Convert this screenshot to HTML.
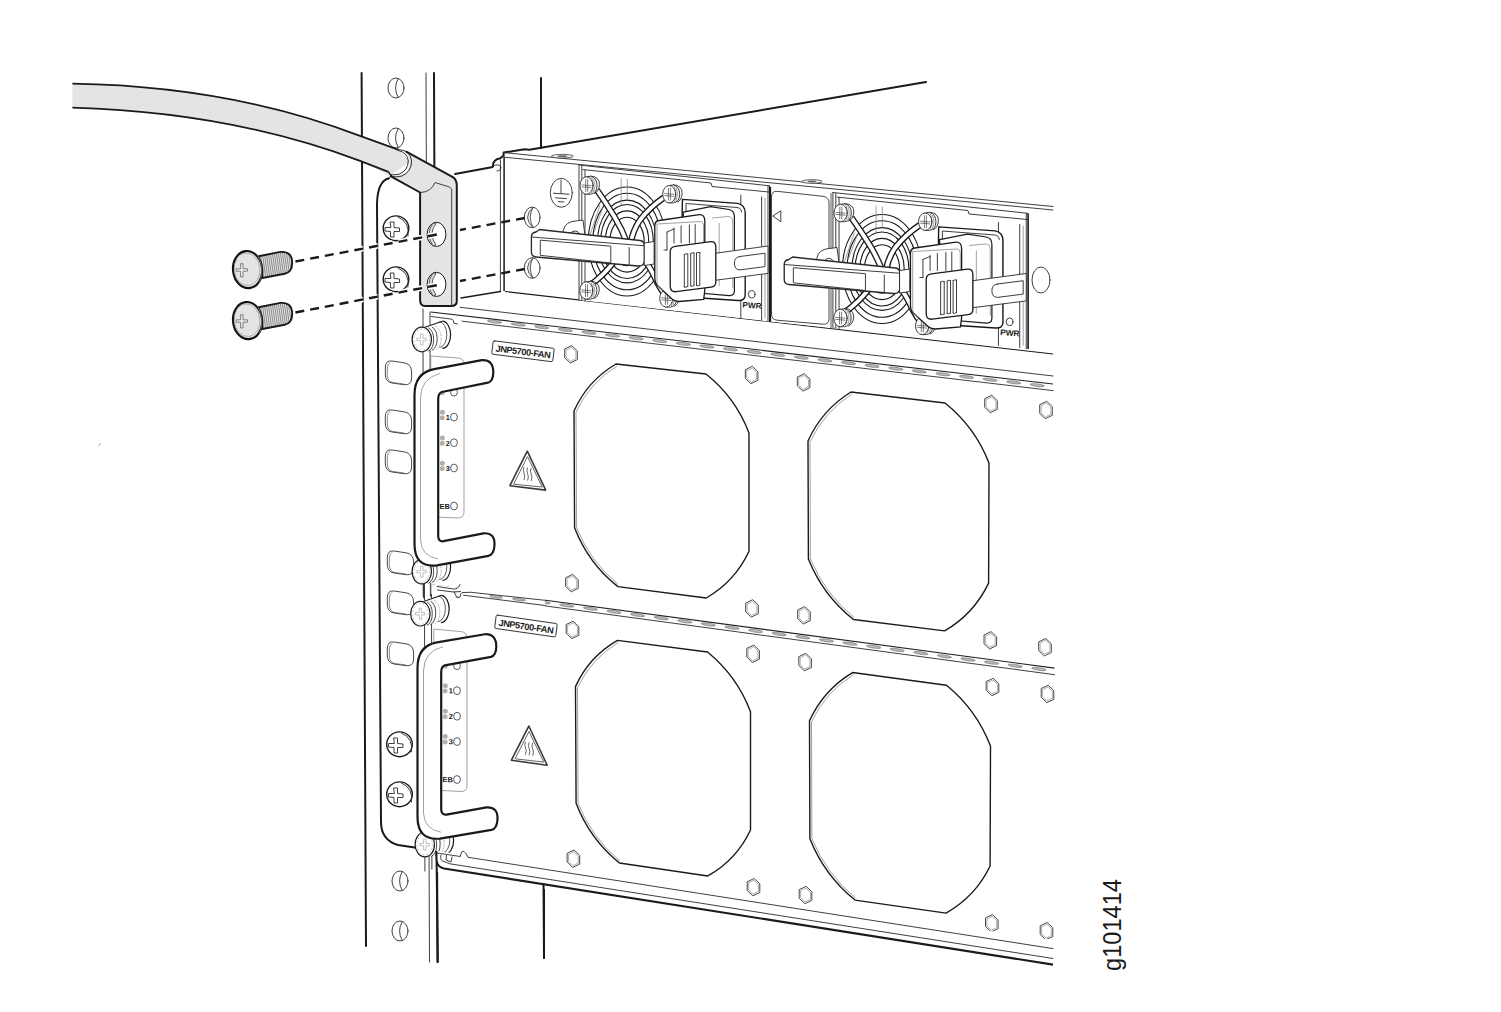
<!DOCTYPE html>
<html><head><meta charset="utf-8"><style>
html,body{margin:0;padding:0;background:#fff;width:1501px;height:1012px;overflow:hidden}
svg{display:block}
.k{fill:none;stroke:#1a1a1a;stroke-width:2;stroke-linecap:round;stroke-linejoin:round}
.m{fill:none;stroke:#1a1a1a;stroke-width:1.4;stroke-linecap:round;stroke-linejoin:round}
.t{fill:none;stroke:#2a2a2a;stroke-width:0.9;stroke-linecap:round;stroke-linejoin:round}
.g{fill:none;stroke:#8a8a8a;stroke-width:0.8}
.w{fill:#fff}
.f{fill:#e4e4e4}
text{font-family:"Liberation Sans",sans-serif}
</style></head><body>
<svg width="1501" height="1012" viewBox="0 0 1501 1012">
<!-- rack rail -->
<path class="k" d="M361.6 73 L366 946"/>
<path class="t" d="M426 73 L429.5 962"/>
<path class="k" d="M434 73 L437.5 962"/>
<!-- rack holes top -->
<g id="rh">
<ellipse class="t" cx="396" cy="88" rx="8" ry="10"/>
<path class="t" d="M398 79 Q393 88 398 97"/>
</g>
<use href="#rh" y="50"/>
<use href="#rh" x="4" y="793"/>
<use href="#rh" x="4" y="843"/>
<!-- back posts -->
<path class="k" d="M541 78 L541 148"/>
<path class="k" d="M544 885 L544 958"/>
<!-- chassis top line -->
<path class="k" d="M455.1 174 L492.9 167 Q492.5 159.5 500.4 158.2 L503.6 155.4 L503.6 152.6 L524.6 149.3 L529.3 149.8 L926 82"/>

<!-- PSU chassis frame -->
<path class="w" d="M500.4 160 L504 157 L1053 210 L1053 354 L505 291 L461 298 L493 168 Z"/>
<path class="t" d="M503.6 152.6 L1053 206.5"/>
<path class="t" d="M505 157.3 L1053 210"/>
<path class="t" d="M500.4 160 L500.4 291.5"/>
<path d="M504.1 156.5 L504.1 291" fill="none" stroke="#1a1a1a" style="stroke-width:1.5"/>
<path d="M505 291.5 L1053 354" fill="none" stroke="#1a1a1a" style="stroke-width:1.1"/>
<path class="m" d="M461 298 L500.4 291.5"/>
<path class="t" d="M493.5 166 Q498 163 501 167 Q501 171 497 171" />
<ellipse cx="562.4" cy="156.2" rx="11" ry="1.8" fill="#fff" stroke="#333" style="stroke-width:0.8"/>
<ellipse cx="562.4" cy="156.2" rx="5" ry="0.9" fill="#666"/>
<ellipse cx="812" cy="181.5" rx="10" ry="1.8" fill="#fff" stroke="#333" style="stroke-width:0.8"/>
<ellipse cx="812" cy="181.5" rx="4.5" ry="0.9" fill="#666"/>
<!-- ground symbol -->
<g class="t">
<ellipse cx="561.3" cy="192.8" rx="11" ry="14.5"/>
<path d="M561 180 L561 193.6 M553.5 193.2 L569 194.2 M555.5 197.8 L566.5 198.6 M558.3 201.6 L563.8 202"/>
</g>
<!-- chassis holes for lug -->
<g id="ch">
<ellipse class="t" cx="532.2" cy="217.4" rx="7.9" ry="10.3"/>
<path d="M533 207.3 Q522 217.4 533 227.5 Q527.5 217.4 533 207.3 Z" fill="#e8e8e8" stroke="#333" style="stroke-width:0.8"/>
</g>
<use href="#ch" y="50.6"/>
<!-- right side hole -->
<ellipse class="t" cx="1041" cy="280" rx="9" ry="13"/>

<g id="psu1">
<path class="w" d="M579 165 L769.6 185.8 L769.6 321.5 L579 300 Z"/>
<path class="t" d="M579 165 L579 300 M581.8 166 L581.8 300.3 M585 170 L585 301"/>
<path class="t" d="M579 165 L769.6 185.8"/>
<path class="t" d="M583 169.6 L711 183 L712 186.5 L769 192"/>
<clipPath id="fanclip"><path d="M583 176 L676 186 L676 312 L583 302 Z"/></clipPath>
<g clip-path="url(#fanclip)" fill="none" stroke="#1a1a1a" style="stroke-width:1.1"><ellipse cx="627" cy="241.5" rx="17.2" ry="24.2"/><ellipse cx="627" cy="241.5" rx="21.7" ry="30.6"/><ellipse cx="627" cy="241.5" rx="26.3" ry="37"/><ellipse cx="627" cy="241.5" rx="29.4" ry="41.4"/><ellipse cx="627" cy="241.5" rx="34.2" ry="48.2"/><ellipse cx="627" cy="241.5" rx="38.7" ry="54.5"/></g>
<path class="g" d="M621.2 178 L621.2 205 M627.3 179 L627.3 200 M590 235 L600 205 M594 232 L603 207"/>
<path d="M597 190 Q606 203 614 216 Q622 229 627.5 244" fill="none" stroke="#1a1a1a" style="stroke-width:6.4" stroke-linecap="butt"/>
<path d="M597 190 Q606 203 614 216 Q622 229 627.5 244" fill="none" stroke="#fff" style="stroke-width:3.8" stroke-linecap="butt"/>
<path d="M664 197.5 Q650 207 640 220 Q633 230 630.5 244" fill="none" stroke="#1a1a1a" style="stroke-width:6.4" stroke-linecap="butt"/>
<path d="M664 197.5 Q650 207 640 220 Q633 230 630.5 244" fill="none" stroke="#fff" style="stroke-width:3.8" stroke-linecap="butt"/>
<path d="M616 259 Q608 270 600 277 Q596 281 590 285" fill="none" stroke="#1a1a1a" style="stroke-width:6.4" stroke-linecap="butt"/>
<path d="M616 259 Q608 270 600 277 Q596 281 590 285" fill="none" stroke="#fff" style="stroke-width:3.8" stroke-linecap="butt"/>
<path d="M643 258 Q651 268 657 282 Q661 290 666 296" fill="none" stroke="#1a1a1a" style="stroke-width:6.4" stroke-linecap="butt"/>
<path d="M643 258 Q651 268 657 282 Q661 290 666 296" fill="none" stroke="#fff" style="stroke-width:3.8" stroke-linecap="butt"/>
<path class="t" d="M590.5 176.0 Q599.5 176.5 599.5 184.5 Q599.0 191.5 594.5 193.5"/><path class="t w" d="M586.5 176.8 L590.5 176.3 Q597.0 177.8 597.0 185.5 Q597.0 193.2 590.5 194.2 L586.5 194.2 Z"/><path class="g" d="M591.5 177.8 Q595.0 185.5 591.5 193.2 M593.5 178.8 Q596.5 185.5 593.5 192.2"/><ellipse class="t w" cx="586.5" cy="185.5" rx="6.5" ry="8.7"/><path class="t" d="M582.0 184.9 L591.0 185.7 M582.0 186.9 L591.0 187.7 M585.7 179.5 L585.7 191.5 M587.7 179.5 L587.7 191.5" style="stroke-width:0.6"/>
<path class="t" d="M673.2 184.7 Q682.2 185.2 682.2 193.2 Q681.7 200.2 677.2 202.2"/><path class="t w" d="M669.2 185.5 L673.2 185.0 Q679.7 186.5 679.7 194.2 Q679.7 201.89999999999998 673.2 202.89999999999998 L669.2 202.89999999999998 Z"/><path class="g" d="M674.2 186.5 Q677.7 194.2 674.2 201.89999999999998 M676.2 187.5 Q679.2 194.2 676.2 200.89999999999998"/><ellipse class="t w" cx="669.2" cy="194.2" rx="6.5" ry="8.7"/><path class="t" d="M664.7 193.6 L673.7 194.39999999999998 M664.7 195.6 L673.7 196.39999999999998 M668.4000000000001 188.2 L668.4000000000001 200.2 M670.4000000000001 188.2 L670.4000000000001 200.2" style="stroke-width:0.6"/>
<path class="t" d="M590.3 281.0 Q599.3 281.5 599.3 289.5 Q598.8 296.5 594.3 298.5"/><path class="t w" d="M586.3 281.8 L590.3 281.3 Q596.8 282.8 596.8 290.5 Q596.8 298.2 590.3 299.2 L586.3 299.2 Z"/><path class="g" d="M591.3 282.8 Q594.8 290.5 591.3 298.2 M593.3 283.8 Q596.3 290.5 593.3 297.2"/><ellipse class="t w" cx="586.3" cy="290.5" rx="6.5" ry="8.7"/><path class="t" d="M581.8 289.9 L590.8 290.7 M581.8 291.9 L590.8 292.7 M585.5 284.5 L585.5 296.5 M587.5 284.5 L587.5 296.5" style="stroke-width:0.6"/>
<path class="t" d="M670.2 288.9 Q679.2 289.4 679.2 297.4 Q678.7 304.4 674.2 306.4"/><path class="t w" d="M666.2 289.7 L670.2 289.2 Q676.7 290.7 676.7 298.4 Q676.7 306.09999999999997 670.2 307.09999999999997 L666.2 307.09999999999997 Z"/><path class="g" d="M671.2 290.7 Q674.7 298.4 671.2 306.09999999999997 M673.2 291.7 Q676.2 298.4 673.2 305.09999999999997"/><ellipse class="t w" cx="666.2" cy="298.4" rx="6.5" ry="8.7"/><path class="t" d="M661.7 297.79999999999995 L670.7 298.59999999999997 M661.7 299.79999999999995 L670.7 300.59999999999997 M665.4000000000001 292.4 L665.4000000000001 304.4 M667.4000000000001 292.4 L667.4000000000001 304.4" style="stroke-width:0.6"/>
<path class="t" d="M740.8 195 L740.8 318 M761.6 197 L761.6 320 M768 186 L768 321.3"/>
<path d="M769.8 186 L769.8 321.5" stroke="#1a1a1a" style="stroke-width:1.6"/>
<path class="g" d="M765 198 L765 318"/>
<path class="w" fill="#fff" stroke="#1a1a1a" style="stroke-width:1.4" d="M682.4 199.4 L737.6 203.4 Q745.2 205 745.2 213 L745.2 295 Q745 301 738 300.5 L686 297 Q681 296.5 681 291 Z"/>
<path class="t" d="M741.6 212 Q741.5 208 737 207.5 L686 203.5 L686 212"/>
<path class="w" fill="#fff" stroke="#1a1a1a" style="stroke-width:1.2" d="M683.2 212.2 L710.4 206.6 L729 209.5 Q734.4 210.5 734.4 217 L734.4 291 Q734 296 729 295.6 L688 292 Z"/>
<path class="g" d="M712 218 L728 216.5 Q732.8 216.5 732.8 222 L732.8 288 M719.2 223 L719.2 286"/>
<path class="w" fill="#fff" stroke="#1a1a1a" style="stroke-width:1.3" d="M659 220.5 L699.3 214.6 Q704.8 214.5 704.8 221 L704.8 290 L703.7 299.3 L679 301.5 Q675 301.5 672 299 L658 286 Q654.8 283 654.8 278 L654.8 226 Q654.8 221 659 220.5 Z"/>
<path class="g" d="M657 224 L701 221.5 Q703.5 222 703.5 226 L703.5 288 M657 224 L657 282 Q657.5 288 663 290"/>
<path class="t" d="M674 228 L674 243 M681.1 226 L681.1 243 M689.4 225 L689.4 243 M695.2 224.5 L695.2 243"/>
<path class="t" d="M667 232 L674 229 M667 232 L667 250 M664 250 L667 250"/>
<path class="t w" d="M715.8 253.2 L768 246 L768 273.4 L715.8 280.2 Z"/>
<path class="t" d="M740 256.5 L765 253.2 L765 266.6 L740 269.9 Q734.4 270 734.4 263 Q734.4 257 740 256.5 Z"/>
<path class="k w" style="stroke-width:1.3" d="M675.2 246.4 L710.8 241.6 Q715.8 241.2 715.8 247 L715.8 282 Q715.8 286.6 711 287.2 L676 291.7 Q670.2 292.3 670.2 286 L670.2 252 Q670.2 247 675.2 246.4 Z" />
<path class="t" d="M684.3 254.5 L684.3 287 M687.8 254 L687.8 286.5 M684.3 254.5 Q686 253 687.8 254 M684.3 287 Q686 288 687.8 286.5 M690.7 253.5 L690.7 286 M694 253 L694 285.5 M690.7 253.5 Q692.3 252 694 253 M690.7 286 Q692.3 287 694 285.5 M696.5 253 L696.5 285.5 M699.8 252.5 L699.8 285 M696.5 253 Q698 252 699.8 252.5 M696.5 285.5 Q698 287 699.8 285"/>
<path class="t w" d="M563 236 Q562 224 572 221.5 L583 220 L585 236 Z"/>
<ellipse class="t" cx="575" cy="234" rx="4" ry="3"/>
<path class="t w" style="stroke-width:1.3" d="M531.4 237 Q531.4 232.6 536 232 L539.6 229.5 L552.6 231 L640 240.5 Q644.5 241 644.5 246 L644.5 261 Q644 266.3 638 266 L536 257 Q531.4 256.5 531.4 252 Z"/>
<path class="t" d="M531.4 237 L643.9 245.7 M540.7 240.2 L610.8 246.2 L610.8 263 L540.7 255.4 Z M629.2 247.5 L629.2 264.5"/>
<path class="t w" d="M644.5 243 L654.1 241.5 L654.1 264 L644.5 265.5 Z"/>
<ellipse class="t" cx="751.7" cy="294.3" rx="3.3" ry="3.8"/>
<text x="752" y="308.3" font-size="8.2" font-weight="bold" text-anchor="middle" fill="#1a1a1a" transform="rotate(4 752 305)">PWR</text>
</g>
<path class="w" d="M770 186 L834 192.5 L834 328 L770 321.5 Z"/>
<path d="M770.5 187 L770.5 322" fill="none" stroke="#1a1a1a" style="stroke-width:1.3"/>
<path d="M777 191.3 L823 196.3 Q829 197 829 203 L829 318.5 Q829 324.6 823 324.2 L777 320.2 Q771.5 319.6 771.5 314 L771.5 197 Q771.5 190.8 777 191.3 Z" fill="#fff" stroke="#333" style="stroke-width:0.9"/>
<path class="t" d="M780.5 211 L772.8 216 L780.5 221.4 Z"/>
<path d="M831 193 L831 328 M834.5 193.5 L834.5 328.5" fill="none" stroke="#444" style="stroke-width:0.9"/>
<use href="#psu1" transform="matrix(1.023 0 0 1 240.6 27.5)"/>

<!-- rack ear bracket -->
<path class="w" d="M377 190 Q377 178 389 178 L437 178 L437.5 852 L396 845 Q381 840 381 822 Z"/>
<path class="k" d="M389 178.3 Q377.5 181 377 204 L381 822 Q381 840 398 845 L418 848"/>
<!-- ear oval holes -->
<g id="eh">
<path d="M392 361 L404 362.8 Q411.6 364 411.6 372 L411.6 378 Q411.6 385.5 404 384.7 L392 383 Q385.3 382 385.3 374 L385.3 368 Q385.3 360 392 361 Z" fill="#fff" stroke="#333" style="stroke-width:0.9"/>
<path d="M390 362.5 Q387.3 364 387.3 369 L387.3 375 Q387.5 381.5 393 382.5 L404 384" fill="none" stroke="#555" style="stroke-width:0.7"/>
</g>
<use href="#eh" y="49"/>
<use href="#eh" y="89"/>
<use href="#eh" x="2" y="190"/>
<use href="#eh" x="2" y="230"/>
<use href="#eh" x="2" y="281"/>
<!-- rail screws -->
<g id="rs">
<ellipse class="m w" cx="396" cy="228.3" rx="12.8" ry="12.4" fill="#fff"/>
<path class="t" d="M398 217 Q410 222 408 236"/>
<path class="t" d="M390.5 222 L394 222 L394 227.5 L399.5 228 L399.5 231.5 L394 231.5 L394 237 L390.5 237 L390.5 231.5 L385 231 L385 227.5 L390.5 227.5 Z"/>
</g>
<use href="#rs" y="51"/>
<use href="#rs" x="3.5" y="516"/>
<use href="#rs" x="3.5" y="566"/>

<g id="tray1">
<path class="w" d="M430 312 L1053 384 L1053 672 L431 596 Z"/>
<path d="M430.7 312 L1053 384" fill="none" stroke="#222" style="stroke-width:1.1"/>
<path class="t" d="M431.3 316.5 L452 319.2 Q453.5 320 454 323.2 L457.6 324"/>
<path class="t" d="M462 321.2 L1053 390.6"/>
<g fill="#bbb" stroke="#555" style="stroke-width:0.5"><ellipse cx="494.5" cy="321.7" rx="7.2" ry="1.3" transform="rotate(7 494.5 321.7)"/><ellipse cx="518.1" cy="324.5" rx="7.2" ry="1.3" transform="rotate(7 518.1 324.5)"/><ellipse cx="541.7" cy="327.2" rx="7.2" ry="1.3" transform="rotate(7 541.7 327.2)"/><ellipse cx="565.3" cy="330.0" rx="7.2" ry="1.3" transform="rotate(7 565.3 330.0)"/><ellipse cx="588.9" cy="332.7" rx="7.2" ry="1.3" transform="rotate(7 588.9 332.7)"/><ellipse cx="612.5" cy="335.5" rx="7.2" ry="1.3" transform="rotate(7 612.5 335.5)"/><ellipse cx="636.1" cy="338.3" rx="7.2" ry="1.3" transform="rotate(7 636.1 338.3)"/><ellipse cx="659.7" cy="341.0" rx="7.2" ry="1.3" transform="rotate(7 659.7 341.0)"/><ellipse cx="683.3" cy="343.8" rx="7.2" ry="1.3" transform="rotate(7 683.3 343.8)"/><ellipse cx="706.9" cy="346.5" rx="7.2" ry="1.3" transform="rotate(7 706.9 346.5)"/><ellipse cx="730.5" cy="349.3" rx="7.2" ry="1.3" transform="rotate(7 730.5 349.3)"/><ellipse cx="754.1" cy="352.1" rx="7.2" ry="1.3" transform="rotate(7 754.1 352.1)"/><ellipse cx="777.7" cy="354.8" rx="7.2" ry="1.3" transform="rotate(7 777.7 354.8)"/><ellipse cx="801.3" cy="357.6" rx="7.2" ry="1.3" transform="rotate(7 801.3 357.6)"/><ellipse cx="824.9" cy="360.4" rx="7.2" ry="1.3" transform="rotate(7 824.9 360.4)"/><ellipse cx="848.5" cy="363.1" rx="7.2" ry="1.3" transform="rotate(7 848.5 363.1)"/><ellipse cx="872.1" cy="365.9" rx="7.2" ry="1.3" transform="rotate(7 872.1 365.9)"/><ellipse cx="895.7" cy="368.6" rx="7.2" ry="1.3" transform="rotate(7 895.7 368.6)"/><ellipse cx="919.3" cy="371.4" rx="7.2" ry="1.3" transform="rotate(7 919.3 371.4)"/><ellipse cx="942.9" cy="374.2" rx="7.2" ry="1.3" transform="rotate(7 942.9 374.2)"/><ellipse cx="966.5" cy="376.9" rx="7.2" ry="1.3" transform="rotate(7 966.5 376.9)"/><ellipse cx="990.1" cy="379.7" rx="7.2" ry="1.3" transform="rotate(7 990.1 379.7)"/><ellipse cx="1013.7" cy="382.4" rx="7.2" ry="1.3" transform="rotate(7 1013.7 382.4)"/><ellipse cx="1037.3" cy="385.2" rx="7.2" ry="1.3" transform="rotate(7 1037.3 385.2)"/></g>
<path class="t" d="M430 312 L430.4 596"/>
<path class="t" d="M423 309 L423.4 598"/>
<path class="m" d="M574 411 Q587.5 380.8 616.0 364.0 L706 374 Q735.6 397.6 749.0 433.0 L749 551.3 Q735.0 581.4 706.3 598.0 L617.9 586.6 Q588.2 563.1 574.6 527.7 Z"/>
<path class="g" d="M576.6 527.7 L576 412 Q589.6 382.9 617.0 366.0"/>
<path class="g" d="M576.6 527.7 Q590.1 561.6 618.4 584.6"/>
<path class="m" d="M808 441 Q822.0 409.9 851.0 392.0 L945 403 Q975.1 427.1 989.0 463.0 L988.6 583.1 Q974.0 613.8 944.6 630.9 L853.5 619.5 Q822.9 595.2 808.4 558.9 Z"/>
<path class="g" d="M810.4 558.9 L810 442 Q824.1 411.9 852.0 394.0"/>
<path class="g" d="M810.4 558.9 Q824.8 593.7 854.0 617.5"/>
<path d="M571.7 345.6 L577.3 350.9 L577.3 359.6 L570.3 363.0 L564.7 357.7 L564.7 349.0Z" fill="#fff" stroke="#333" style="stroke-width:0.9" stroke-linejoin="round"/><path d="M571.5 347.3 L575.9 351.6 L575.9 358.5 L570.5 361.3 L566.1 357.0 L566.1 350.1Z" fill="none" stroke="#777" style="stroke-width:0.6"/>
<path d="M752.3 366.3 L757.9 371.6 L757.9 380.3 L750.9 383.7 L745.3 378.4 L745.3 369.7Z" fill="#fff" stroke="#333" style="stroke-width:0.9" stroke-linejoin="round"/><path d="M752.1 368.0 L756.5 372.3 L756.5 379.2 L751.1 382.0 L746.7 377.7 L746.7 370.8Z" fill="none" stroke="#777" style="stroke-width:0.6"/>
<path d="M804.3 373.7 L809.9 379.0 L809.9 387.7 L802.9 391.1 L797.3 385.8 L797.3 377.1Z" fill="#fff" stroke="#333" style="stroke-width:0.9" stroke-linejoin="round"/><path d="M804.1 375.4 L808.5 379.7 L808.5 386.6 L803.1 389.4 L798.7 385.1 L798.7 378.2Z" fill="none" stroke="#777" style="stroke-width:0.6"/>
<path d="M991.7 395.3 L997.3 400.6 L997.3 409.3 L990.3 412.7 L984.7 407.4 L984.7 398.7Z" fill="#fff" stroke="#333" style="stroke-width:0.9" stroke-linejoin="round"/><path d="M991.5 397.0 L995.9 401.3 L995.9 408.2 L990.5 411.0 L986.1 406.7 L986.1 399.8Z" fill="none" stroke="#777" style="stroke-width:0.6"/>
<path d="M1046.7 401.3 L1052.3 406.6 L1052.3 415.3 L1045.3 418.7 L1039.7 413.4 L1039.7 404.7Z" fill="#fff" stroke="#333" style="stroke-width:0.9" stroke-linejoin="round"/><path d="M1046.5 403.0 L1050.9 407.3 L1050.9 414.2 L1045.5 417.0 L1041.1 412.7 L1041.1 405.8Z" fill="none" stroke="#777" style="stroke-width:0.6"/>
<path d="M572.6 574.4 L578.2 579.7 L578.2 588.4 L571.2 591.8 L565.6 586.5 L565.6 577.8Z" fill="#fff" stroke="#333" style="stroke-width:0.9" stroke-linejoin="round"/><path d="M572.4 576.1 L576.8 580.4 L576.8 587.3 L571.4 590.1 L567.0 585.8 L567.0 578.9Z" fill="none" stroke="#777" style="stroke-width:0.6"/>
<path d="M752.7 599.7 L758.3 605.0 L758.3 613.7 L751.3 617.1 L745.7 611.8 L745.7 603.1Z" fill="#fff" stroke="#333" style="stroke-width:0.9" stroke-linejoin="round"/><path d="M752.5 601.4 L756.9 605.7 L756.9 612.6 L751.5 615.4 L747.1 611.1 L747.1 604.2Z" fill="none" stroke="#777" style="stroke-width:0.6"/>
<path d="M804.7 606.6 L810.3 611.9 L810.3 620.6 L803.3 624.0 L797.7 618.7 L797.7 610.0Z" fill="#fff" stroke="#333" style="stroke-width:0.9" stroke-linejoin="round"/><path d="M804.5 608.3 L808.9 612.6 L808.9 619.5 L803.5 622.3 L799.1 618.0 L799.1 611.1Z" fill="none" stroke="#777" style="stroke-width:0.6"/>
<path d="M991.0 631.6 L996.6 636.9 L996.6 645.6 L989.6 649.0 L984.0 643.7 L984.0 635.0Z" fill="#fff" stroke="#333" style="stroke-width:0.9" stroke-linejoin="round"/><path d="M990.8 633.3 L995.2 637.6 L995.2 644.5 L989.8 647.3 L985.4 643.0 L985.4 636.1Z" fill="none" stroke="#777" style="stroke-width:0.6"/>
<path d="M1045.7 638.5 L1051.3 643.8 L1051.3 652.5 L1044.3 655.9 L1038.7 650.6 L1038.7 641.9Z" fill="#fff" stroke="#333" style="stroke-width:0.9" stroke-linejoin="round"/><path d="M1045.5 640.2 L1049.9 644.5 L1049.9 651.4 L1044.5 654.2 L1040.1 649.9 L1040.1 643.0Z" fill="none" stroke="#777" style="stroke-width:0.6"/>
<path d="M527.3 451.2 L545.7 490.1 L509.9 485.7 Z" fill="none" stroke="#3a3a3a" style="stroke-width:1.6" stroke-linejoin="round"/>
<path d="M527.5 456.6 L542.2 487 L513.6 484.2 Z" fill="none" stroke="#555" style="stroke-width:0.9" stroke-linejoin="round"/>
<path d="M524 467 q-1.5 3 0 6 q1.5 3 0 7 M527.6 467.5 q-1.5 3 0 6 q1.5 3 0 7 M531.2 468 q-1.5 3 0 6 q1.5 3 0 7" fill="none" stroke="#555" style="stroke-width:0.9"/>
</g>
<use href="#tray1" transform="matrix(1 0.0176 0 1 1.5 265.55)"/>
<g id="tray1l">
<g transform="translate(493.3 340.7) rotate(7.2)"><rect class="t" x="0" y="0" width="61.5" height="13.5" rx="1.5" fill="#fff"/><text x="30.8" y="10.4" font-size="9" font-weight="bold" text-anchor="middle" fill="#1a1a1a" letter-spacing="-0.45" textLength="55" lengthAdjust="spacingAndGlyphs">JNP5700-FAN</text></g>
<path class="g" d="M430.8 517 L430.8 356 L458 358 Q464 358.5 464 364 L464 512 Q464 517.9 458 517.9 Z" fill="#fff"/>
<ellipse cx="454" cy="392.2" rx="3.4" ry="3.9" fill="none" stroke="#333" style="stroke-width:0.8"/>
<circle cx="442.4" cy="387.4" r="2.5" fill="#b0b0b0"/><circle cx="442.2" cy="392.8" r="2.5" fill="#b0b0b0"/>
<ellipse cx="454" cy="417.1" rx="3.4" ry="3.9" fill="none" stroke="#333" style="stroke-width:0.8"/>
<text x="449.8" y="419.90000000000003" font-size="7.4" font-weight="bold" text-anchor="end" fill="#1a1a1a">1</text>
<circle cx="442.4" cy="412.3" r="2.5" fill="#b0b0b0"/><circle cx="442.2" cy="417.70000000000005" r="2.5" fill="#b0b0b0"/>
<ellipse cx="454" cy="442.7" rx="3.4" ry="3.9" fill="none" stroke="#333" style="stroke-width:0.8"/>
<text x="449.8" y="445.5" font-size="7.4" font-weight="bold" text-anchor="end" fill="#1a1a1a">2</text>
<circle cx="442.4" cy="437.9" r="2.5" fill="#b0b0b0"/><circle cx="442.2" cy="443.3" r="2.5" fill="#b0b0b0"/>
<ellipse cx="454" cy="468" rx="3.4" ry="3.9" fill="none" stroke="#333" style="stroke-width:0.8"/>
<text x="449.8" y="470.8" font-size="7.4" font-weight="bold" text-anchor="end" fill="#1a1a1a">3</text>
<circle cx="442.4" cy="463.2" r="2.5" fill="#b0b0b0"/><circle cx="442.2" cy="468.6" r="2.5" fill="#b0b0b0"/>
<ellipse cx="454" cy="506" rx="3.4" ry="3.9" fill="none" stroke="#333" style="stroke-width:0.8"/>
<text x="449.8" y="508.8" font-size="7.4" font-weight="bold" text-anchor="end" fill="#1a1a1a">EB</text>
<path d="M421.8 559.3000000000001 L442.3 553.3 L442.3 580.5 L421.8 583.9 Z" fill="#fff"/><path d="M442.3 553.3 A8.3 13.6 0 0 1 442.3 580.5" fill="#fff" stroke="#1a1a1a" style="stroke-width:1.2"/><path d="M439.3 553.9 A7.5 12.8 0 0 1 439.3 579.5" fill="none" stroke="#333" style="stroke-width:0.8"/><path d="M424.8 559.3000000000001 L442.3 553.3" stroke="#1a1a1a" style="stroke-width:1.1" fill="none"/><path d="M428.3 559.8000000000001 A8 12.5 0 0 1 428.3 583.4 M431.8 559.0 A8 12.5 0 0 1 431.8 582.6" fill="none" stroke="#333" style="stroke-width:0.9"/><path d="M435.8 558.3000000000001 A7.8 12.5 0 0 1 435.8 582.1" fill="none" stroke="#888" style="stroke-width:0.7" stroke-dasharray="1.5 1"/><ellipse cx="421.8" cy="571.6" rx="9.7" ry="12.3" fill="#fff" stroke="#1a1a1a" style="stroke-width:1.2"/><ellipse cx="421.8" cy="571.6" rx="7.8" ry="10.5" fill="none" stroke="#999" style="stroke-width:0.8" stroke-dasharray="1.2 2.6"/><path d="M420.6 566.1 L420.6 570.4 L416.8 570.4 L416.8 572.8000000000001 L420.6 572.8000000000001 L420.6 577.1 L423.0 577.1 L423.0 572.8000000000001 L426.3 572.8000000000001 L426.3 570.4 L423.0 570.4 L423.0 566.1 Z" stroke="#999" style="stroke-width:0.6" fill="none"/>
<path d="M434 369.2 L481.9 360.2 Q493.5 359.5 493.3 372.8 Q493 381.5 488 382.7 L441.8 392 Q438.2 393.5 438.2 399 L438.2 536 Q438.2 542 443.5 541.2 L483.5 533.3 Q495 532.5 494.5 545 Q494 554.5 488.5 555.8 L437 565.3 Q414.5 568 414.5 544 L414.5 395 Q414.5 373 434 369.2 Z" fill="#fff" stroke="#1a1a1a" style="stroke-width:2.2" stroke-linejoin="round"/>
<path class="g" d="M420.5 398 Q421 378 440 373.5 M420.5 398 L420.5 540 Q421 556 438 559"/>
</g>
<use href="#tray1l" transform="matrix(1 0.0176 0 1 3 265.55)"/>
<path d="M430.5 584.3 L545 597.9 L545 607 L430.5 594 Z" fill="#fff"/>
<path class="t" d="M430.8 584 L430.8 596 M423.3 584 L423.3 596"/>
<path class="t" d="M437 586.5 L453.6 589 Q458 589.5 460 584.5 M437.5 590 L453.5 592 L460.5 591.5"/>
<path class="t" d="M454 591.5 Q455.5 597.2 458.3 597.5 L460.3 596.8 Q460 593.6 462 592.6 Q470 591.5 482 593.5 L545 600.3"/>
<path class="t" d="M463.5 595.2 L545 605.5"/>
<g fill="#bbb" stroke="#555" style="stroke-width:0.5"><ellipse cx="496" cy="596.8" rx="6.5" ry="1.2" transform="rotate(7 496 596.8)"/><ellipse cx="519" cy="599.5" rx="6.5" ry="1.2" transform="rotate(7 519 599.5)"/></g>
<path d="M421.8 327.2 L442.3 321.2 L442.3 348.40000000000003 L421.8 351.8 Z" fill="#fff"/><path d="M442.3 321.2 A8.3 13.6 0 0 1 442.3 348.40000000000003" fill="#fff" stroke="#1a1a1a" style="stroke-width:1.2"/><path d="M439.3 321.8 A7.5 12.8 0 0 1 439.3 347.40000000000003" fill="none" stroke="#333" style="stroke-width:0.8"/><path d="M424.8 327.2 L442.3 321.2" stroke="#1a1a1a" style="stroke-width:1.1" fill="none"/><path d="M428.3 327.7 A8 12.5 0 0 1 428.3 351.3 M431.8 326.9 A8 12.5 0 0 1 431.8 350.5" fill="none" stroke="#333" style="stroke-width:0.9"/><path d="M435.8 326.2 A7.8 12.5 0 0 1 435.8 350.0" fill="none" stroke="#888" style="stroke-width:0.7" stroke-dasharray="1.5 1"/><ellipse cx="421.8" cy="339.5" rx="9.7" ry="12.3" fill="#fff" stroke="#1a1a1a" style="stroke-width:1.2"/><ellipse cx="421.8" cy="339.5" rx="7.8" ry="10.5" fill="none" stroke="#999" style="stroke-width:0.8" stroke-dasharray="1.2 2.6"/><path d="M420.6 334.0 L420.6 338.3 L416.8 338.3 L416.8 340.7 L420.6 340.7 L420.6 345.0 L423.0 345.0 L423.0 340.7 L426.3 340.7 L426.3 338.3 L423.0 338.3 L423.0 334.0 Z" stroke="#999" style="stroke-width:0.6" fill="none"/>
<path d="M420.4 601.4000000000001 L440.9 595.4 L440.9 622.6 L420.4 626.0 Z" fill="#fff"/><path d="M440.9 595.4 A8.3 13.6 0 0 1 440.9 622.6" fill="#fff" stroke="#1a1a1a" style="stroke-width:1.2"/><path d="M437.9 596.0 A7.5 12.8 0 0 1 437.9 621.6" fill="none" stroke="#333" style="stroke-width:0.8"/><path d="M423.4 601.4000000000001 L440.9 595.4" stroke="#1a1a1a" style="stroke-width:1.1" fill="none"/><path d="M426.9 601.9000000000001 A8 12.5 0 0 1 426.9 625.5 M430.4 601.1 A8 12.5 0 0 1 430.4 624.7" fill="none" stroke="#333" style="stroke-width:0.9"/><path d="M434.4 600.4000000000001 A7.8 12.5 0 0 1 434.4 624.2" fill="none" stroke="#888" style="stroke-width:0.7" stroke-dasharray="1.5 1"/><ellipse cx="420.4" cy="613.7" rx="9.7" ry="12.3" fill="#fff" stroke="#1a1a1a" style="stroke-width:1.2"/><ellipse cx="420.4" cy="613.7" rx="7.8" ry="10.5" fill="none" stroke="#999" style="stroke-width:0.8" stroke-dasharray="1.2 2.6"/><path d="M419.2 608.2 L419.2 612.5 L415.4 612.5 L415.4 614.9000000000001 L419.2 614.9000000000001 L419.2 619.2 L421.59999999999997 619.2 L421.59999999999997 614.9000000000001 L424.9 614.9000000000001 L424.9 612.5 L421.59999999999997 612.5 L421.59999999999997 608.2 Z" stroke="#999" style="stroke-width:0.6" fill="none"/>

<!-- shelf line under PSU -->
<path class="t" d="M460 307.3 L1053 376"/>
<!-- chassis bottom -->
<path class="w" d="M437 851 L1053 940 L1053 970 L437 872 Z"/>
<path class="t" d="M437 853 L460.3 856.5 Q461.5 850 464 851.5 Q466 853 468 857.3 L1053 948.6"/>
<path class="t" d="M441 855 Q439.5 861 444 861.5 L449.9 863.8 L1053 958.5"/>
<path class="t" d="M446.5 855.5 L446 860 L451 862 L452 857"/>
<path d="M436.3 851 L436.5 860 Q437 867 444 868.5 L1053 964.6" fill="none" stroke="#1a1a1a" style="stroke-width:2.1"/>
<path class="k" d="M436.6 862 L437.8 962"/>
<path class="k" d="M543.5 884 L544 958"/>

<!-- cable -->
<path d="M72.4 83.6 Q230 86 360 135.9 L398.7 149.8 L409.8 161.6 L390 175.8 L360 160.8 Q230 112 72.4 107.6 Z" fill="#e4e4e4" stroke="none"/>
<path d="M72.4 83.6 Q230 86 360 135.9 L398.7 149.8" fill="none" stroke="#1a1a1a" style="stroke-width:1.8"/>
<path d="M72.4 107.6 Q230 112 360 160.8 L388.5 171.9" fill="none" stroke="#1a1a1a" style="stroke-width:1.8"/>
<!-- lug -->
<path d="M398.7 149.8 Q403 150 405.8 151.3 L453.3 177.4 Q456.8 180 456.8 186 L456.8 301 Q456.8 306 451 306 L425 306 Q420.1 306 420.1 300 L420.1 192.5 L390 175.8 Q398 176 404.3 174.3 Q410 170 409.8 161.6 Q408 152 398.7 149.8 Z" fill="#e4e4e4" stroke="none"/>
<path d="M405.8 151.3 L453.3 177.4 Q456.8 180 456.8 186 L456.8 301 Q456.8 306 451 306 L425 306 Q420.1 306 420.1 300 L420.1 192.5 L390 175.8" fill="none" stroke="#1a1a1a" style="stroke-width:2" stroke-linejoin="round"/>
<path d="M388.5 171.9 Q390 175 392 176" fill="none" stroke="#1a1a1a" style="stroke-width:1.4"/>
<path class="t" d="M420.9 192.5 Q431 192 435.1 182.6 L449.3 186.9 L451.7 189 L451.7 306"/>
<!-- ferrule ring -->
<path d="M398.7 149.8 Q404 150 406 151.5 Q411.5 155 411.5 162 Q411 172 402 176 Q396 177.5 391 176.5" fill="none" stroke="#1a1a1a" style="stroke-width:0.9"/>
<path d="M397.5 150.2 Q407.5 152.5 408.3 161 Q408 170.5 399.5 174 Q395 175 390 175" fill="none" stroke="#1a1a1a" style="stroke-width:0.9"/>
<!-- lug holes -->
<g id="lh">
<ellipse cx="436.5" cy="234.4" rx="9.4" ry="12.1" fill="#fff" stroke="#1a1a1a" style="stroke-width:1"/>
<path d="M433 223 Q425 234 433 246 L436 245 Q428 234 436 223.5 Z" fill="#ddd" stroke="#333" style="stroke-width:0.8"/>
</g>
<use href="#lh" y="50"/>

<!-- dashed lines -->
<g fill="none" stroke-linecap="butt">
<path d="M295.4 261.5 L438 234.3" stroke="#fff" style="stroke-width:5.5" stroke-dasharray="9 6"/>
<path d="M295.4 261.5 L438 234.3" stroke="#1a1a1a" style="stroke-width:2.4" stroke-dasharray="9 6"/>
<path d="M460 230 L530 217" stroke="#1a1a1a" style="stroke-width:2.4" stroke-dasharray="9 6" stroke-dashoffset="3"/>
<path d="M295.4 312.5 L438 285" stroke="#fff" style="stroke-width:5.5" stroke-dasharray="9 6"/>
<path d="M295.4 312.5 L438 285" stroke="#1a1a1a" style="stroke-width:2.4" stroke-dasharray="9 6"/>
<path d="M460 281 L530 268" stroke="#1a1a1a" style="stroke-width:2.4" stroke-dasharray="9 6" stroke-dashoffset="3"/>
</g>
<!-- loose screws -->
<defs>
<pattern id="thr" width="2" height="3" patternUnits="userSpaceOnUse" patternTransform="rotate(-8)">
<rect width="2" height="3" fill="#e6e6e6"/>
<rect width="1" height="3" fill="#8a8a8a"/>
</pattern>
</defs>
<g id="ls">
<path d="M258.6 256.2 L280.4 251.9 Q292.2 251 292.2 263.1 Q292 272.5 284.7 273.8 L262.3 278 Z" fill="url(#thr)" stroke="#1a1a1a" style="stroke-width:1.9" stroke-linejoin="round"/>
<g transform="rotate(-6 247.6 269.6)">
<ellipse cx="247.6" cy="269.6" rx="14.6" ry="18.6" fill="#e4e4e4" stroke="#111" style="stroke-width:2.1"/>
<ellipse cx="247.1" cy="269.2" rx="12.8" ry="16.3" fill="none" stroke="#999" style="stroke-width:0.7"/>
<path d="M259 256 Q265 270 258 284" fill="none" stroke="#777" style="stroke-width:0.8"/>
</g>
<path d="M240.6 263.7 L243 263.7 L243 268.8 L247.4 268.8 L247.4 271.2 L243 271.2 L243 277 L240.6 277 L240.6 271.2 L236.2 271.2 L236.2 268.8 L240.6 268.8 Z" fill="#eee" stroke="#666" style="stroke-width:0.8"/>
</g>
<use href="#ls" y="51"/>

<text transform="translate(1121 971) rotate(-90)" style="font-family:'Liberation Sans',sans-serif" font-size="25" fill="#1a1a1a" textLength="92" lengthAdjust="spacingAndGlyphs">g101414</text>
<path d="M98.3 445.5 L100.8 443.5" stroke="#999" style="stroke-width:1"/>

</svg></body></html>
